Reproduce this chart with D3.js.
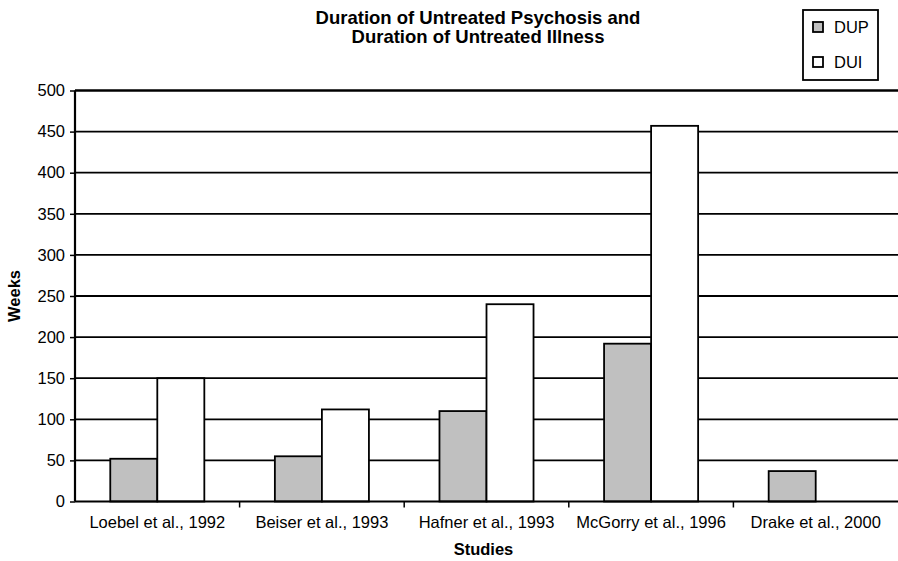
<!DOCTYPE html>
<html>
<head>
<meta charset="utf-8">
<script src="https://cdn.jsdelivr.net/npm/d3@7"></script>
<style>
  body { margin: 0; background: #fff; }
  text { font-family: "Liberation Sans", Arial, sans-serif; }
</style>
</head>
<body>
<script>
var studies = ['Loebel et al., 1992', 'Beiser et al., 1993', 'Hafner et al., 1993', 'McGorry et al., 1996', 'Drake et al., 2000'];
var seriesNames = ['DUP', 'DUI'];
var dupValues = [52, 55, 110, 192, 37];
var duiValues = [150, 112, 240, 457, null];
var yTicks = [0, 50, 100, 150, 200, 250, 300, 350, 400, 450, 500];
var fills = {DUP: '#c0c0c0', DUI: '#ffffff'};

var W = 898, H = 561;
var margin = {top: 90.5, right: 0, bottom: 59.5, left: 75};
var width = W - margin.left - margin.right,
    height = H - margin.top - margin.bottom;
var fs = 16.5;

var svg = d3.select('body').append('svg')
    .attr('width', W)
    .attr('height', H);

var g = svg.append('g')
    .attr('transform', 'translate(' + margin.left + ',' + margin.top + ')');

var x = d3.scaleBand()
    .domain(studies)
    .range([0, width])
    .paddingInner(0)
    .paddingOuter(0);

// two bars per category, gap width 150%
var x1 = d3.scaleBand()
    .domain(seriesNames)
    .range([x.bandwidth() * 0.2143, x.bandwidth() * 0.7857]);

var y = d3.scaleLinear()
    .domain([0, 500])
    .range([height, 0]);

// gridlines
g.selectAll('.grid')
    .data(yTicks.filter(function(d) { return d > 0; }))
    .enter().append('line')
    .attr('x1', 0)
    .attr('x2', width)
    .attr('y1', function(d) { return y(d); })
    .attr('y2', function(d) { return y(d); })
    .attr('stroke', '#000')
    .attr('stroke-width', function(d) { return d === 500 ? 2.5 : 1.8; });

// bars
var rows = studies.map(function(s, i) {
  return {study: s, values: [{key: 'DUP', v: dupValues[i]}, {key: 'DUI', v: duiValues[i]}]};
});

var grp = g.selectAll('.study')
    .data(rows)
    .enter().append('g')
    .attr('transform', function(d) { return 'translate(' + x(d.study) + ',0)'; });

grp.selectAll('rect')
    .data(function(d) { return d.values.filter(function(e) { return e.v != null; }); })
    .enter().append('rect')
    .attr('x', function(d) { return x1(d.key); })
    .attr('width', x1.bandwidth())
    .attr('y', function(d) { return y(d.v); })
    .attr('height', function(d) { return height - y(d.v); })
    .attr('fill', function(d) { return fills[d.key]; })
    .attr('stroke', '#000')
    .attr('stroke-width', 1.8);

// y axis
var yAxis = g.append('g')
    .call(d3.axisLeft(y).tickValues(yTicks).tickSize(5).tickPadding(5));
yAxis.select('.domain').attr('stroke-width', 2.2).attr('d', 'M0,' + height + 'V0');
yAxis.selectAll('.tick line').attr('stroke-width', 1.5);
yAxis.selectAll('text').attr('font-size', fs).attr('fill', '#000')
    .style('font-family', '"Liberation Sans", Arial, sans-serif');

// x axis
var xAxis = g.append('g')
    .attr('transform', 'translate(0,' + height + ')')
    .call(d3.axisBottom(x).tickSize(0).tickPadding(15));
xAxis.select('.domain').attr('stroke-width', 2.2).attr('d', 'M0,0H' + width);
xAxis.selectAll('text').attr('font-size', fs).attr('fill', '#000')
    .style('font-family', '"Liberation Sans", Arial, sans-serif');

// category boundary ticks
g.selectAll('.xtick')
    .data(studies.slice(1))
    .enter().append('line')
    .attr('x1', function(d) { return x(d); })
    .attr('x2', function(d) { return x(d); })
    .attr('y1', height)
    .attr('y2', height + 6)
    .attr('stroke', '#000')
    .attr('stroke-width', 1.5);

// titles
var title = svg.append('text')
    .attr('x', 478)
    .attr('y', 24)
    .attr('text-anchor', 'middle')
    .attr('font-size', 18.5)
    .attr('font-weight', 'bold');
title.append('tspan').attr('x', 478).text('Duration of Untreated Psychosis and');
title.append('tspan').attr('x', 478).attr('dy', 19).text('Duration of Untreated Illness');

svg.append('text')
    .attr('x', margin.left + width / 2 - 3)
    .attr('y', 555)
    .attr('text-anchor', 'middle')
    .attr('font-size', fs)
    .attr('font-weight', 'bold')
    .text('Studies');

svg.append('text')
    .attr('transform', 'translate(20,' + (margin.top + height / 2) + ') rotate(-90)')
    .attr('text-anchor', 'middle')
    .attr('font-size', fs)
    .attr('font-weight', 'bold')
    .text('Weeks');

// legend
var legend = svg.append('g').attr('transform', 'translate(803,10)');
legend.append('rect')
    .attr('width', 75)
    .attr('height', 70)
    .attr('fill', '#fff')
    .attr('stroke', '#000')
    .attr('stroke-width', 1.8);

seriesNames.forEach(function(key, i) {
  var row = legend.append('g').attr('transform', 'translate(10,' + (12 + i * 35) + ')');
  row.append('rect')
      .attr('width', 10)
      .attr('height', 10)
      .attr('fill', fills[key])
      .attr('stroke', '#000')
      .attr('stroke-width', 1.8);
  row.append('text')
      .attr('x', 21)
      .attr('y', 11)
      .attr('font-size', fs)
      .text(key);
});
</script>
</body>
</html>
